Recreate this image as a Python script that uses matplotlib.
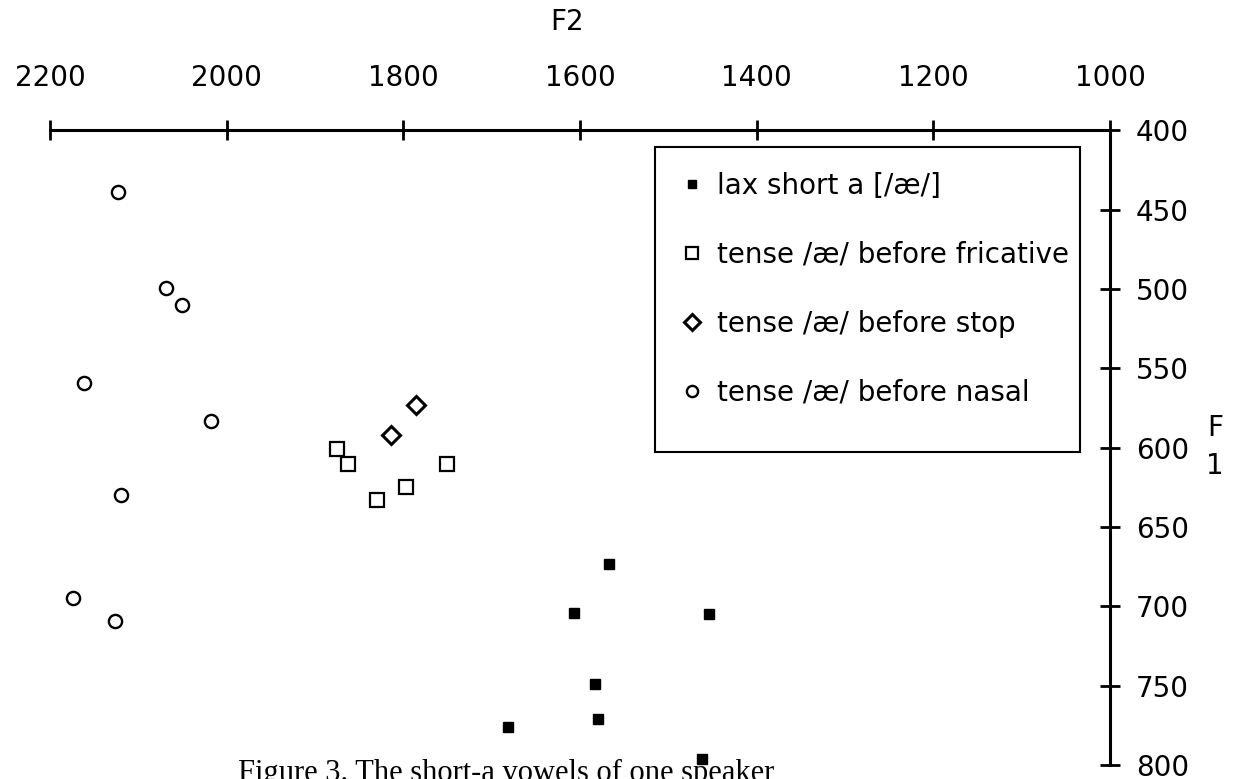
import matplotlib
matplotlib.use("Agg")
import matplotlib.pyplot as plt
from matplotlib.patches import Rectangle

# F2 (Hz) and F1 (Hz) per group
lax_f2 = [1567, 1607, 1454, 1583, 1580, 1682, 1462]
lax_f1 = [673, 704, 705, 749, 771, 776, 796]
fric_f2 = [1875, 1863, 1751, 1797, 1830]
fric_f1 = [601, 610, 610, 625, 633]
stop_f2 = [1786, 1814]
stop_f1 = [573, 592]
nasal_f2 = [2123, 2069, 2051, 2162, 2018, 2120, 2174, 2126]
nasal_f1 = [439, 499, 510, 559, 583, 630, 695, 709]

xticks = [2200, 2000, 1800, 1600, 1400, 1200, 1000]
yticks = [400, 450, 500, 550, 600, 650, 700, 750, 800]
labels = ['lax short a [/æ/]', 'tense /æ/ before fricative',
          'tense /æ/ before stop', 'tense /æ/ before nasal']

plt.rcParams['font.family'] = ['DejaVu Sans']
plt.rcParams['font.size'] = 20

fig = plt.figure(figsize=(12.38, 7.79), dpi=100)
ax = fig.add_axes([0.0404, 0.018, 0.8562, 0.8145])

ax.plot(lax_f2, lax_f1, 's', ms=7.4, color='black', label=labels[0])
ax.plot(fric_f2, fric_f1, 's', ms=9.5, mfc='white', mec='black', mew=1.6, label=labels[1])
ax.plot(stop_f2, stop_f1, 'D', ms=9.0, mfc='white', mec='black', mew=2.2, label=labels[2])
ax.plot(nasal_f2, nasal_f1, 'o', ms=9.5, mfc='white', mec='black', mew=1.7, label=labels[3])

ax.set_xlim(2200, 1000)
ax.set_ylim(800, 400)
ax.set_xticks(xticks)
ax.set_yticks(yticks)

ax.spines['left'].set_visible(False)
ax.spines['bottom'].set_visible(False)
ax.spines['top'].set_linewidth(2.2)
ax.spines['right'].set_linewidth(2.2)
ax.xaxis.tick_top()
ax.yaxis.tick_right()
ax.tick_params(direction='inout', length=15, width=2)
ax.tick_params(axis='x', pad=20)
ax.tick_params(axis='y', pad=11)

ax.xaxis.set_label_position('top')
ax.set_xlabel('F2', va='center')
ax.xaxis.set_label_coords(0.4877, 1.171)
ax.yaxis.set_label_position('right')
ax.set_ylabel('F\n1', rotation=0, ha='center', va='center', linespacing=1.45)
ax.yaxis.set_label_coords(1.099, 0.501)

leg = ax.legend(loc='upper left', bbox_to_anchor=(0.5925, 0.9346), frameon=False,
                borderpad=0, handlelength=1.0, handletextpad=0.4,
                labelspacing=1.47, markerscale=0.85, borderaxespad=0)
ax.add_patch(Rectangle((0.571, 0.4933), 0.401, 0.4807, transform=ax.transAxes,
                       fill=False, lw=1.5, ec='black', clip_on=False, zorder=5))

# caption runs off the bottom edge, as in the source
fig.text(238 / 1238, 1 - 759 / 779, 'Figure 3. The short-a vowels of one speaker',
         va='top', ha='left', family=['Liberation Serif'], size=22)

fig.savefig('out.png', dpi=100)
